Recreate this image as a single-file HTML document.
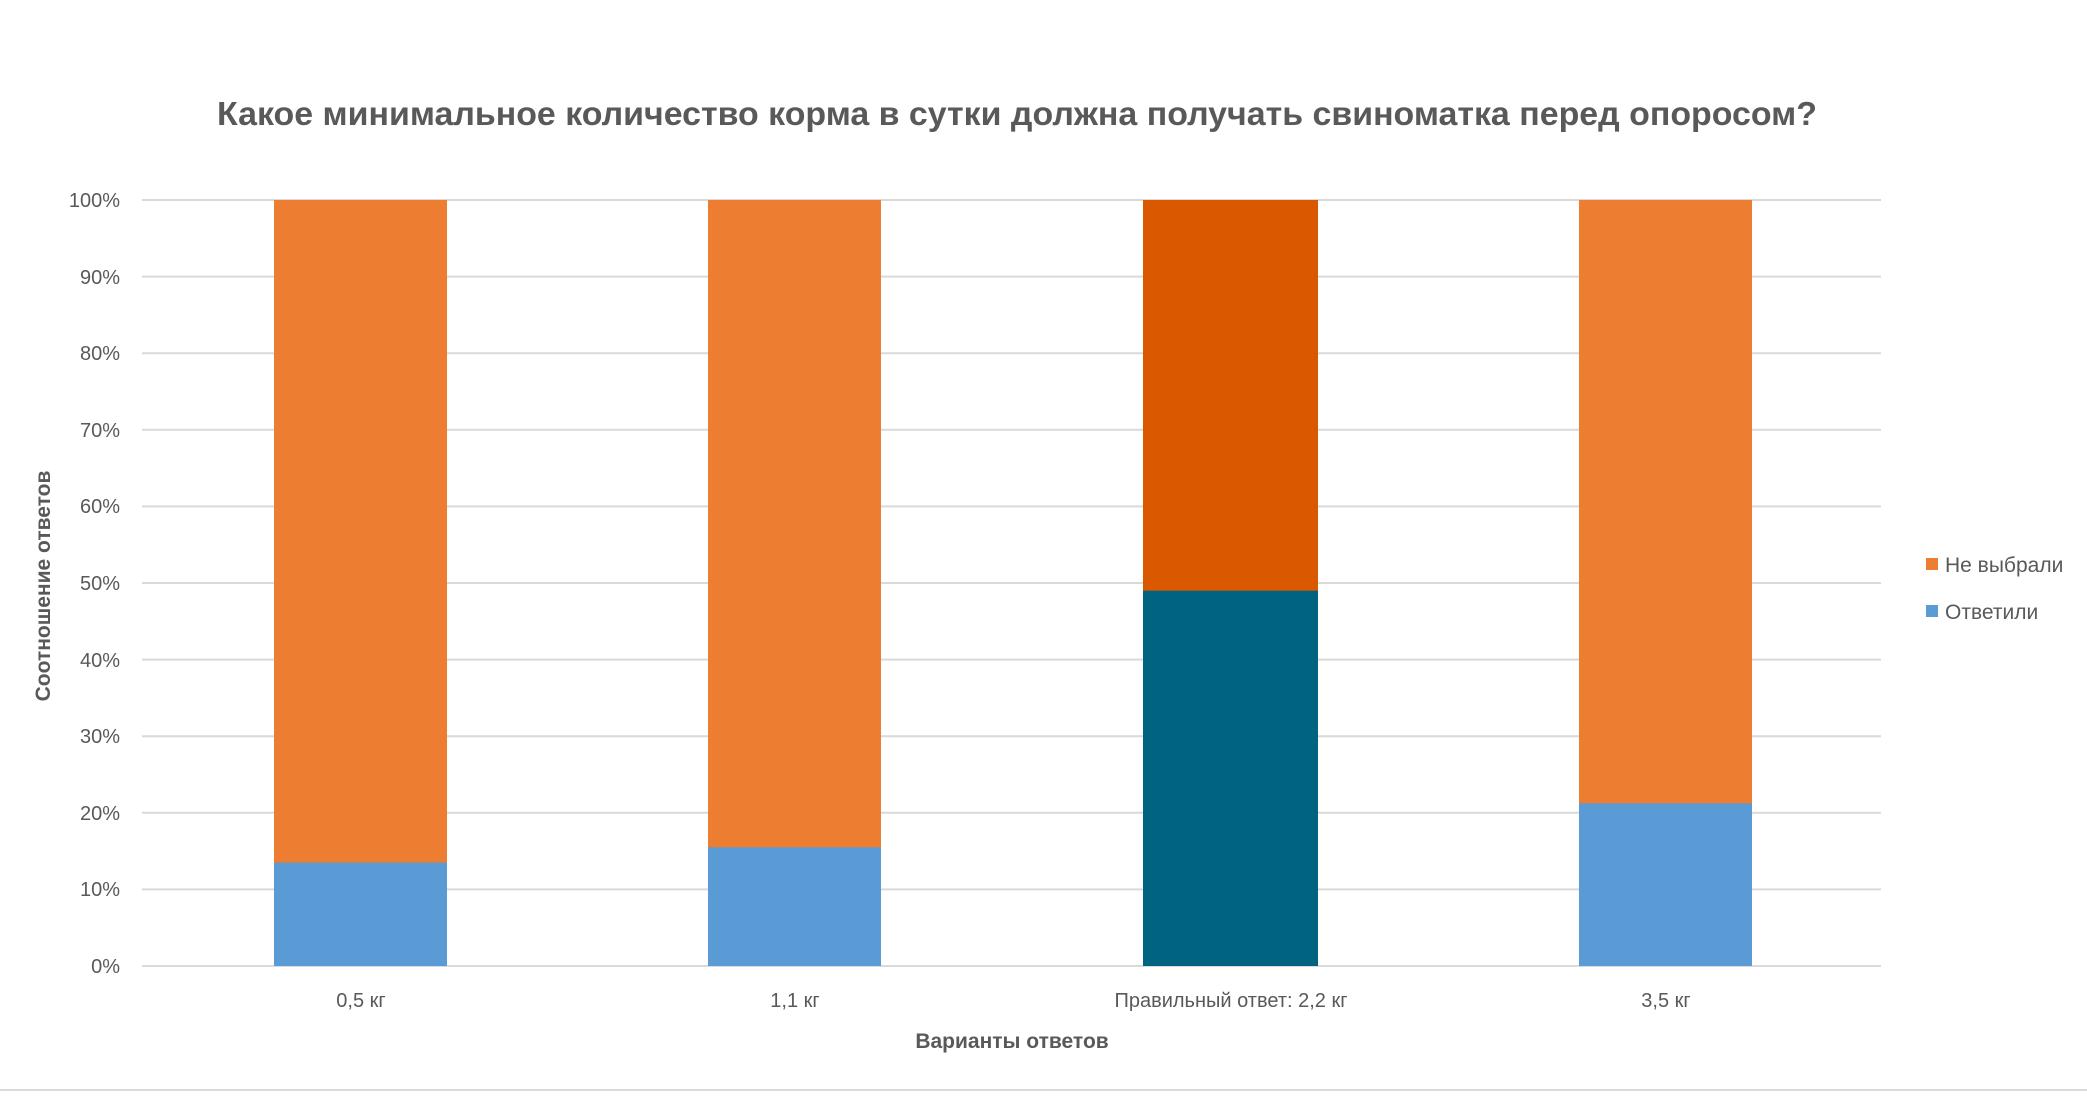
<!DOCTYPE html>
<html><head><meta charset="utf-8"><style>
body{margin:0;background:#fff;width:2087px;height:1093px;overflow:hidden}
svg text{font-family:"Liberation Sans","DejaVu Sans",sans-serif}
</style></head><body>
<svg width="2087" height="1093" viewBox="0 0 2087 1093">
<rect width="2087" height="1093" fill="#fff"/>
<text x="1017" y="125" text-anchor="middle" font-size="33" font-weight="bold" fill="#595959" textLength="1600" lengthAdjust="spacingAndGlyphs">Какое минимальное количество корма в сутки должна получать свиноматка перед опоросом?</text>
<g stroke="#d9d9d9" stroke-width="2">
<line x1="142" x2="1881" y1="200" y2="200"/><line x1="142" x2="1881" y1="276.6" y2="276.6"/>
<line x1="142" x2="1881" y1="353.2" y2="353.2"/><line x1="142" x2="1881" y1="429.8" y2="429.8"/>
<line x1="142" x2="1881" y1="506.4" y2="506.4"/><line x1="142" x2="1881" y1="583" y2="583"/>
<line x1="142" x2="1881" y1="659.6" y2="659.6"/><line x1="142" x2="1881" y1="736.2" y2="736.2"/>
<line x1="142" x2="1881" y1="812.8" y2="812.8"/><line x1="142" x2="1881" y1="889.4" y2="889.4"/>
<line x1="142" x2="1881" y1="966" y2="966"/>
</g>
<g font-size="20" fill="#595959" text-anchor="end">
<text x="120" y="207">100%</text><text x="120" y="284">90%</text><text x="120" y="360">80%</text>
<text x="120" y="437">70%</text><text x="120" y="513">60%</text><text x="120" y="590">50%</text>
<text x="120" y="667">40%</text><text x="120" y="743">30%</text><text x="120" y="820">20%</text>
<text x="120" y="896">10%</text><text x="120" y="973">0%</text>
</g>
<rect x="274" y="200" width="173" height="663" fill="#ED7D31"/>
<rect x="274" y="862.6" width="173" height="103.4" fill="#5B9BD5"/>
<rect x="708" y="200" width="173" height="648" fill="#ED7D31"/>
<rect x="708" y="847.3" width="173" height="118.7" fill="#5B9BD5"/>
<rect x="1143" y="200" width="175" height="392" fill="#D95800"/>
<rect x="1143" y="590.7" width="175" height="375.3" fill="#006380"/>
<rect x="1579" y="200" width="173" height="604" fill="#ED7D31"/>
<rect x="1579" y="803.3" width="173" height="162.7" fill="#5B9BD5"/>
<g font-size="20" fill="#595959" text-anchor="middle">
<text x="361" y="1007">0,5 кг</text><text x="795" y="1007">1,1 кг</text>
<text x="1231" y="1007">Правильный ответ: 2,2 кг</text><text x="1666" y="1007">3,5 кг</text>
</g>
<text x="1012" y="1048" text-anchor="middle" font-size="21" font-weight="bold" fill="#595959">Варианты ответов</text>
<text transform="translate(50,586) rotate(-90)" text-anchor="middle" font-size="21" font-weight="bold" fill="#595959">Соотношение ответов</text>
<rect x="1926" y="558" width="12" height="12" fill="#ED7D31"/>
<text x="1945" y="572" font-size="21" fill="#595959">Не выбрали</text>
<rect x="1926" y="605" width="12" height="12" fill="#5B9BD5"/>
<text x="1945" y="619" font-size="21" fill="#595959">Ответили</text>
<line x1="0" x2="2087" y1="1090" y2="1090" stroke="#d9d9d9" stroke-width="2"/>
</svg>
</body></html>
